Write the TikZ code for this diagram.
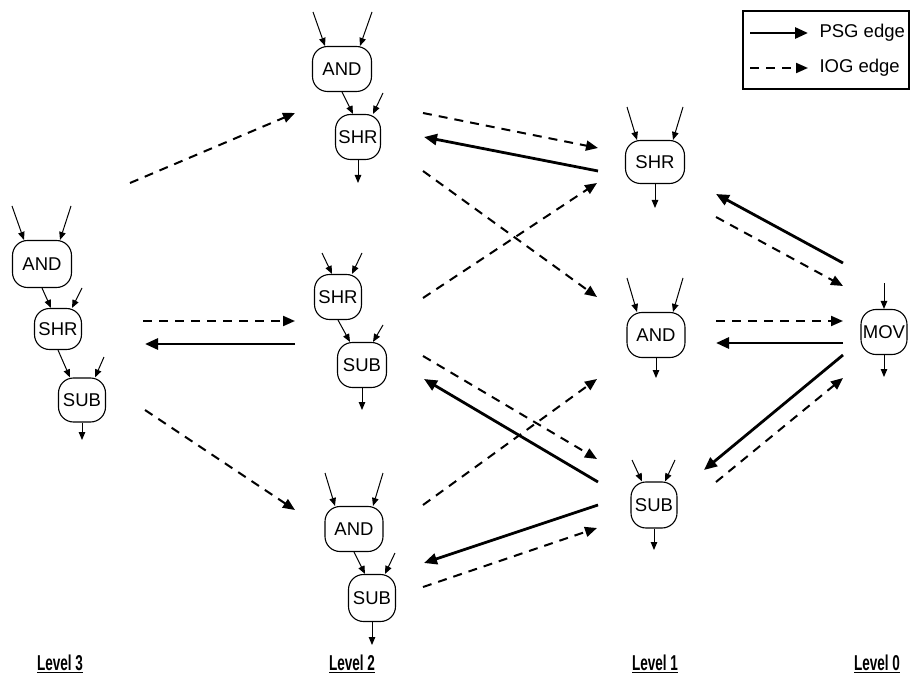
\documentclass[tikz,border=0pt]{standalone}
\usepackage{fontspec}
\setmainfont{Liberation Sans}
\usepackage{graphicx}
\usetikzlibrary{arrows.meta}
\begin{document}
\begin{tikzpicture}[x=1pt,y=-1pt,
  opnode/.style={draw,line width=1.1pt,rounded corners=15pt,inner sep=0pt,
    font=\fontsize{18.5}{20}\selectfont},
  inarr/.style={line width=1pt,-{Triangle[length=8pt,width=6.5pt]}},
  psg/.style={line width=2.8pt,-{Triangle[length=13pt,width=11pt]}},
  iog/.style={line width=2pt,dash pattern=on 9pt off 7pt,-{Triangle[length=12pt,width=10pt]}},
  lvl/.style={font=\fontsize{21.5}{23}\selectfont\bfseries},
  legtext/.style={anchor=west,font=\fontsize{18.5}{20}\selectfont}]
\useasboundingbox (0,0) rectangle (914,682);

% ---------- nodes ----------
% Level 3
\node[opnode,minimum width=59pt,minimum height=47pt] (a3) at (42,264) {AND};
\node[opnode,minimum width=47pt,minimum height=41pt] (s3) at (58,329) {SHR};
\node[opnode,minimum width=47pt,minimum height=44pt] (u3) at (82,400) {SUB};
% Level 2 top
\node[opnode,minimum width=59pt,minimum height=45pt] (a2t) at (342,69) {AND};
\node[opnode,minimum width=45pt,minimum height=45pt] (s2t) at (358,137) {SHR};
% Level 2 middle
\node[opnode,minimum width=47pt,minimum height=45pt] (s2m) at (338,297) {SHR};
\node[opnode,minimum width=49pt,minimum height=45pt] (u2m) at (362,365) {SUB};
% Level 2 bottom
\node[opnode,minimum width=58pt,minimum height=45pt] (a2b) at (354,529) {AND};
\node[opnode,minimum width=47pt,minimum height=47pt] (u2b) at (372,598) {SUB};
% Level 1
\node[opnode,minimum width=59pt,minimum height=43pt] (s1) at (655,162) {SHR};
\node[opnode,minimum width=58pt,minimum height=45pt] (a1) at (656,335) {AND};
\node[opnode,minimum width=46pt,minimum height=46pt] (u1) at (654,505) {SUB};
% Level 0
\node[opnode,minimum width=46pt,minimum height=45pt] (m0) at (884,332) {MOV};

% ---------- local operand arrows ----------
% Level 3
\coordinate (a3i1) at (12,206);  \coordinate (a3i2) at (71,206);
\coordinate (s3i2) at (82,288);  \coordinate (u3i2) at (104,357);
\coordinate (u3o) at (82,440);
\draw[inarr] (a3i1) -- ([xshift=-18pt]a3.north);
\draw[inarr] (a3i2) -- ([xshift=18pt]a3.north);
\draw[inarr] (a3.south) -- ([xshift=-7pt]s3.north);
\draw[inarr] (s3i2) -- ([xshift=14pt]s3.north);
\draw[inarr] (s3.south) -- ([xshift=-12pt]u3.north);
\draw[inarr] (u3i2) -- ([xshift=13pt]u3.north);
\draw[inarr] (u3.south) -- (u3o);
% Level 2 top
\coordinate (a2ti1) at (313,12);  \coordinate (a2ti2) at (372,12);
\coordinate (s2ti2) at (383,93);  \coordinate (s2to) at (358,183);
\draw[inarr] (a2ti1) -- ([xshift=-17pt]a2t.north);
\draw[inarr] (a2ti2) -- ([xshift=18pt]a2t.north);
\draw[inarr] (a2t.south) -- ([xshift=-5pt]s2t.north);
\draw[inarr] (s2ti2) -- ([xshift=15pt]s2t.north);
\draw[inarr] (s2t.south) -- (s2to);
% Level 2 middle
\coordinate (s2mi1) at (322,253); \coordinate (s2mi2) at (362,253);
\coordinate (u2mi2) at (383,325); \coordinate (u2mo) at (362,410);
\draw[inarr] (s2mi1) -- ([xshift=-6pt]s2m.north);
\draw[inarr] (s2mi2) -- ([xshift=14pt]s2m.north);
\draw[inarr] (s2m.south) -- ([xshift=-12pt]u2m.north);
\draw[inarr] (u2mi2) -- ([xshift=11pt]u2m.north);
\draw[inarr] (u2m.south) -- (u2mo);
% Level 2 bottom
\coordinate (a2bi1) at (325,473); \coordinate (a2bi2) at (383,473);
\coordinate (u2bi2) at (395,553); \coordinate (u2bo) at (372,645);
\draw[inarr] (a2bi1) -- ([xshift=-19pt]a2b.north);
\draw[inarr] (a2bi2) -- ([xshift=19pt]a2b.north);
\draw[inarr] (a2b.south) -- ([xshift=-7pt]u2b.north);
\draw[inarr] (u2bi2) -- ([xshift=13pt]u2b.north);
\draw[inarr] (u2b.south) -- (u2bo);
% Level 1
\coordinate (s1i1) at (627,107); \coordinate (s1i2) at (683,107); \coordinate (s1o) at (655,208);
\coordinate (a1i1) at (627,278); \coordinate (a1i2) at (683,278); \coordinate (a1o) at (656,378);
\coordinate (u1i1) at (632,460); \coordinate (u1i2) at (675,460); \coordinate (u1o) at (654,550);
\draw[inarr] (s1i1) -- ([xshift=-18pt]s1.north);
\draw[inarr] (s1i2) -- ([xshift=18pt]s1.north);
\draw[inarr] (s1.south) -- (s1o);
\draw[inarr] (a1i1) -- ([xshift=-19pt]a1.north);
\draw[inarr] (a1i2) -- ([xshift=17pt]a1.north);
\draw[inarr] (a1.south) -- (a1o);
\draw[inarr] (u1i1) -- ([xshift=-12pt]u1.north);
\draw[inarr] (u1i2) -- ([xshift=11pt]u1.north);
\draw[inarr] (u1.south) -- (u1o);
% Level 0
\coordinate (m0i) at (884,283); \coordinate (m0o) at (884,377);
\draw[inarr] (m0i) -- (m0.north);
\draw[inarr] (m0.south) -- (m0o);

% ---------- IOG edges ----------
\coordinate (d1s) at (130,183);  \coordinate (d1e) at (295,113);
\coordinate (d2s) at (143,321);  \coordinate (d2e) at (295,321);
\coordinate (d3s) at (145,410);  \coordinate (d3e) at (295,510);
\coordinate (d4s) at (423,113);  \coordinate (d4e) at (598,148);
\coordinate (d5s) at (423,171);  \coordinate (d5e) at (597,297);
\coordinate (d6s) at (423,298);  \coordinate (d6e) at (597,183);
\coordinate (d7s) at (423,356);  \coordinate (d7e) at (597,459);
\coordinate (d8s) at (423,505);  \coordinate (d8e) at (597,379);
\coordinate (d9s) at (423,587);  \coordinate (d9e) at (597,528);
\coordinate (d10s) at (716,217); \coordinate (d10e) at (843,286);
\coordinate (d11s) at (716,321); \coordinate (d11e) at (843,321);
\coordinate (d12s) at (716,482); \coordinate (d12e) at (843,378);
\foreach \i in {1,...,12} { \draw[iog] (d\i s) -- (d\i e); }

% ---------- PSG edges ----------
\coordinate (pas) at (295,344); \coordinate (pae) at (145,344);
\coordinate (pbs) at (598,171); \coordinate (pbe) at (424,137);
\coordinate (pcs) at (598,482); \coordinate (pce) at (424,379);
\coordinate (pds) at (598,505); \coordinate (pde) at (424,563);
\coordinate (pes) at (843,263); \coordinate (pee) at (716,194);
\coordinate (pfs) at (843,343); \coordinate (pfe) at (716,343);
\coordinate (pgs) at (843,355); \coordinate (pge) at (704,470);
\foreach \i in {a,b,c,d,e,f,g} { \draw[psg] (p\i s) -- (p\i e); }

% ---------- legend ----------
\node[draw,line width=1.1pt,minimum width=166pt,minimum height=78pt,inner sep=0pt] (leg) at (826,50) {};
\coordinate (l1s) at (750,33); \coordinate (l1e) at (808,33);
\coordinate (l2s) at (750,68); \coordinate (l2e) at (808,68);
\draw[psg] (l1s) -- (l1e);
\draw[iog] (l2s) -- (l2e);
\node[legtext] (t1) at (816,33) {PSG edge};
\node[legtext] (t2) at (816,68) {IOG edge};

% ---------- level labels ----------
\node[lvl] (L3) at (60,664) {\scalebox{0.63}[1]{\underline{Level 3}}};
\node[lvl] (L2) at (352,664) {\scalebox{0.63}[1]{\underline{Level 2}}};
\node[lvl] (L1) at (655,664) {\scalebox{0.63}[1]{\underline{Level 1}}};
\node[lvl] (L0) at (877,664) {\scalebox{0.63}[1]{\underline{Level 0}}};
\end{tikzpicture}
\end{document}
